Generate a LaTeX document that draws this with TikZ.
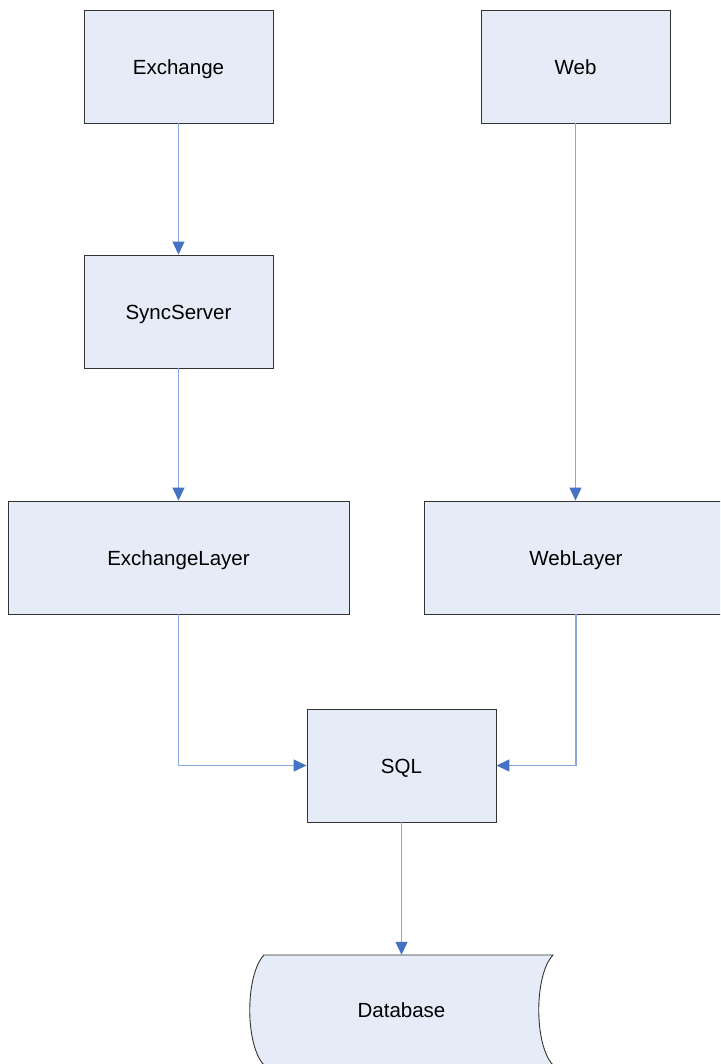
\documentclass[tikz,border=0pt]{standalone}
\usepackage{fontspec}
\setmainfont{Liberation Sans}
\usetikzlibrary{arrows.meta}
\definecolor{boxfill}{HTML}{E6ECF7}
\definecolor{boxline}{HTML}{333333}
\definecolor{conn}{HTML}{8AA6DA}
\definecolor{tipc}{HTML}{4472C4}
\begin{document}
\begin{tikzpicture}[x=1pt,y=-1pt,
  lbl/.style={font=\fontsize{20.5}{24}\selectfont, text height=15.5pt, text depth=0pt},
  box/.style={lbl, draw=boxline, fill=boxfill, line width=0.9pt, inner sep=0pt,
    minimum height=113pt},
  conn/.style={draw=conn, line width=1.2pt,
    -{Triangle[length=13pt,width=12pt,fill=tipc,color=tipc]}}]
\useasboundingbox (0,0) rectangle (720,1064);
\clip (0,0) rectangle (720,1064);
\node[box, minimum width=189pt] (exch) at (178.5,66.5) {Exchange};
\node[box, minimum width=189pt] (web) at (575.5,66.5) {Web};
\node[box, minimum width=189pt] (sync) at (178.5,311.5) {SyncServer};
\node[box, minimum width=341pt] (exl) at (178.5,557.5) {ExchangeLayer};
\node[box, minimum width=304pt] (webl) at (576,557.5) {WebLayer};
\node[box, minimum width=189pt] (sql) at (401.5,765.5) {SQL};
\node[inner sep=0pt, minimum width=290pt, minimum height=110pt] (db) at (401.5,1010) {};
\fill[boxfill] (264,955) -- (553,955) .. controls (534,975) and (534,1045) .. (553,1065)
  -- (264,1065) .. controls (245,1045) and (245,975) .. (264,955) -- cycle;
\draw[boxline, line width=0.9pt] (553,1065) .. controls (534,1045) and (534,975) .. (553,955)
  -- (264,955) .. controls (245,975) and (245,1045) .. (264,1065);
\node[lbl] at (db.center) {Database};
\draw[conn] (exch) -- (sync);
\draw[conn] (sync) -- (exl);
\draw[conn] (web.south) -- (web.south |- webl.north);
\draw[conn] (exl.south) |- (sql.west);
\draw[conn] (webl.south) |- (sql.east);
\draw[conn] (sql) -- (db.north);
\end{tikzpicture}
\end{document}
